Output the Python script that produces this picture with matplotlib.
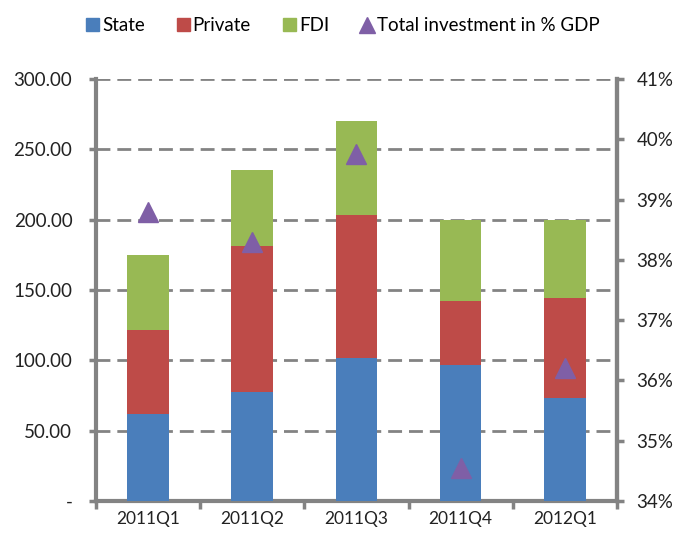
import matplotlib
matplotlib.use("Agg")
import matplotlib.pyplot as plt
from matplotlib.lines import Line2D
from matplotlib.patches import Patch
import numpy as np

# Quarterly investment by source (left axis) and total investment share of GDP (right axis)
quarters = ["2011Q1", "2011Q2", "2011Q3", "2011Q4", "2012Q1"]
state = [61.5, 77.5, 101.5, 97.0, 73.0]
private = [60.0, 103.5, 102.0, 45.0, 71.5]
fdi = [53.5, 54.0, 66.5, 58.0, 55.5]
total_pct_gdp = [38.8, 38.3, 39.75, 34.55, 36.2]

left_ticks = [0, 50, 100, 150, 200, 250, 300]
left_labels = ["-", "50.00", "100.00", "150.00", "200.00", "250.00", "300.00"]
right_ticks = [34, 35, 36, 37, 38, 39, 40, 41]
right_labels = [f"{t}%" for t in right_ticks]

c_state = "#4a7ebb"
c_private = "#be4b48"
c_fdi = "#98b954"
c_total = "#7f5fa6"
c_axis = "#838383"

plt.rcParams["font.family"] = ["Lato", "DejaVu Sans"]

fig = plt.figure(figsize=(6.75, 5.36), dpi=100)
ax = fig.add_axes([0.1422, 0.0653, 0.7718, 0.7873])

x = np.arange(len(quarters))
w = 0.40
s = np.array(state)
p = np.array(private)
f = np.array(fdi)
ax.bar(x, s, w, color=c_state, zorder=3)
ax.bar(x, p, w, bottom=s, color=c_private, zorder=3)
ax.bar(x, f, w, bottom=s + p, color=c_fdi, zorder=3)

ax.set_xlim(-0.5, len(quarters) - 0.5)
ax.set_ylim(0, 300)
ax.set_yticks(left_ticks)
ax.set_yticklabels(left_labels)
ax.set_xticks(x)
ax.set_xticklabels(quarters)
ax.set_xticks(np.arange(len(quarters) + 1) - 0.5, minor=True)
ax.tick_params(axis="x", which="major", length=0, labelsize=12.5, pad=7, colors="#222222")
ax.tick_params(axis="x", which="minor", length=6, width=2.5, color=c_axis, direction="out")
ax.tick_params(axis="y", length=5, width=2.5, color=c_axis, labelsize=13.5, pad=12,
               labelcolor="#222222")

for yv in left_ticks[1:]:
    ax.axhline(yv, color=c_axis, lw=2, ls=(0, (5, 2.5)), zorder=1)

ax.spines["top"].set_visible(False)
for side in ["left", "right", "bottom"]:
    ax.spines[side].set_color(c_axis)
    ax.spines[side].set_linewidth(3)

ax2 = ax.twinx()
ax2.set_ylim(34, 41)
ax2.set_yticks(right_ticks)
ax2.set_yticklabels(right_labels)
ax2.tick_params(axis="y", length=5, width=2.5, color=c_axis, labelsize=13.5, pad=9,
                labelcolor="#222222")
for side in ["top", "left", "bottom"]:
    ax2.spines[side].set_visible(False)
ax2.spines["right"].set_color(c_axis)
ax2.spines["right"].set_linewidth(3)
ax2.plot(x, total_pct_gdp, ls="none", marker="^", markersize=14, color=c_total,
         markeredgecolor=c_total, zorder=5)

handles = [
    Patch(color=c_state, label="State"),
    Patch(color=c_private, label="Private"),
    Patch(color=c_fdi, label="FDI"),
    Line2D([], [], ls="none", marker="^", markersize=11, color=c_total,
           label="Total investment in % GDP"),
]
fig.legend(handles=handles, loc="center", bbox_to_anchor=(0.508, 0.952), ncol=4,
           frameon=False, fontsize=13.5, handlelength=0.7, handleheight=0.7,
           handletextpad=0.15, columnspacing=1.7)

fig.savefig("out.png", dpi=100)
